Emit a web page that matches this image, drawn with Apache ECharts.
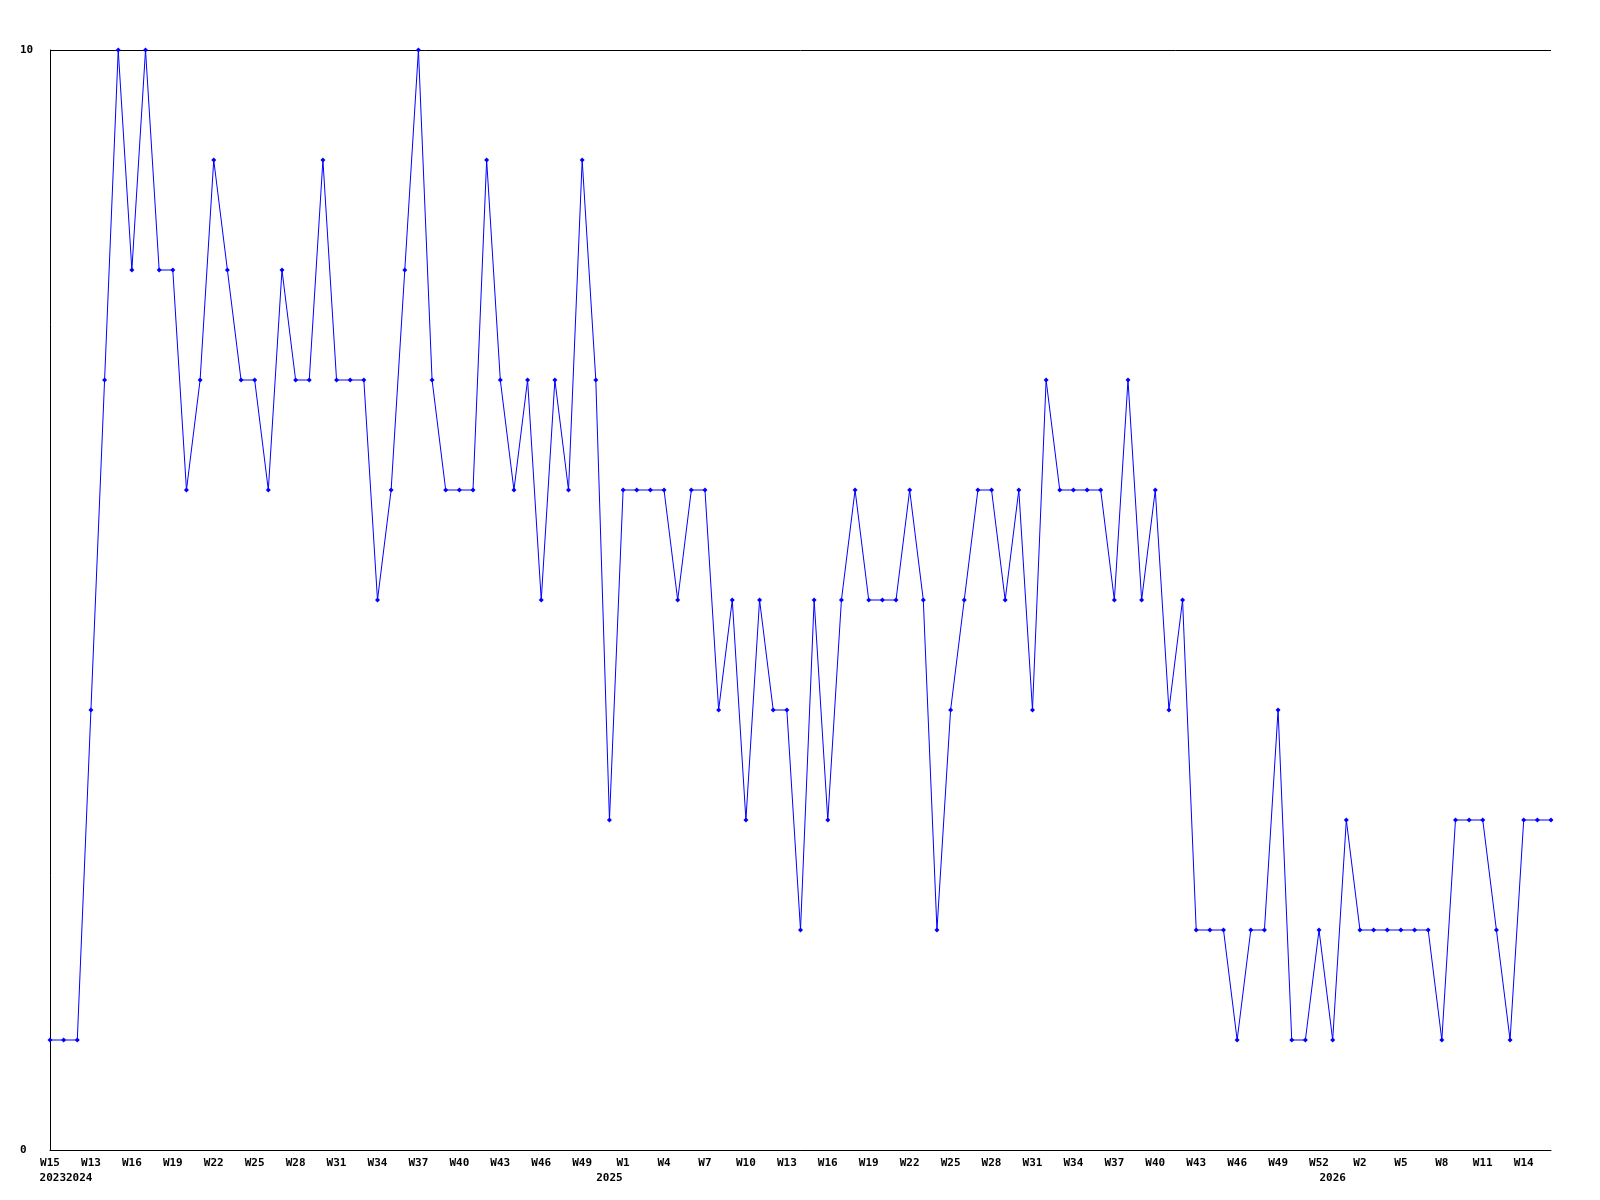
<!DOCTYPE html>
<html>
<head>
<meta charset="utf-8">
<script src="https://cdn.jsdelivr.net/npm/echarts@6/dist/echarts.min.js"></script>
<style>html,body{margin:0;padding:0;background:#fff}#c{width:1600px;height:1200px}</style>
</head>
<body>
<div id="c"></div>
<script>
// Categories: year-week of each point
const categories = [
 '2023-W15',
 '2024-W11','2024-W12','2024-W13','2024-W14','2024-W15','2024-W16','2024-W17','2024-W18','2024-W19','2024-W20',
 '2024-W21','2024-W22','2024-W23','2024-W24','2024-W25','2024-W26','2024-W27','2024-W28','2024-W29','2024-W30',
 '2024-W31','2024-W32','2024-W33','2024-W34','2024-W35','2024-W36','2024-W37','2024-W38','2024-W39','2024-W40',
 '2024-W41','2024-W42','2024-W43','2024-W44','2024-W45','2024-W46','2024-W47','2024-W48','2024-W49','2024-W50',
 '2025-W0','2025-W1','2025-W2','2025-W3','2025-W4','2025-W5','2025-W6','2025-W7','2025-W8','2025-W9','2025-W10',
 '2025-W11','2025-W12','2025-W13','2025-W14','2025-W15','2025-W16','2025-W17','2025-W18','2025-W19','2025-W20',
 '2025-W21','2025-W22','2025-W23','2025-W24','2025-W25','2025-W26','2025-W27','2025-W28','2025-W29','2025-W30',
 '2025-W31','2025-W32','2025-W33','2025-W34','2025-W35','2025-W36','2025-W37','2025-W38','2025-W39','2025-W40',
 '2025-W41','2025-W42','2025-W43','2025-W44','2025-W45','2025-W46','2025-W47','2025-W48','2025-W49','2025-W50',
 '2025-W51','2025-W52',
 '2026-W0','2026-W1','2026-W2','2026-W3','2026-W4','2026-W5','2026-W6','2026-W7','2026-W8','2026-W9','2026-W10',
 '2026-W11','2026-W12','2026-W13','2026-W14','2026-W15','2026-W16'
];
// Series values
const values = [
 1,1,1,4,7,10,8,10,8,8,
 6,7,9,8,7,7,6,8,7,7,
 9,7,7,7,5,6,8,10,7,6,
 6,6,9,7,6,7,5,7,6,9,
 7,3,6,6,6,6,5,6,6,4,
 5,3,5,4,4,2,5,3,5,6,
 5,5,5,6,5,2,4,5,6,6,
 5,6,4,7,6,6,6,6,5,7,
 5,6,4,5,2,2,2,1,2,2,
 4,1,1,2,1,3,2,2,2,2,
 2,2,1,3,3,3,2,1,3,3,3
];
// Y tick labels
const yMin = 0, yMax = 10;

const font = {fontFamily:'DejaVu Sans Mono', fontWeight:'bold', fontSize:11, color:'#000'};
const yearFirst = {};
categories.forEach((c,i)=>{const y=c.split('-')[0]; if(!(y in yearFirst)) yearFirst[y]=i;});
const isYearStart = i => yearFirst[categories[i].split('-')[0]] === i;

const chart = echarts.init(document.getElementById('c'), null, {renderer:'canvas'});
chart.setOption({
  animation:false,
  backgroundColor:'#fff',
  grid:{left:50, right:49, top:50, bottom:50, containLabel:false},
  xAxis:[{
    type:'category', data:categories, boundaryGap:false,
    axisLine:{show:true, lineStyle:{color:'#000', width:1}},
    axisTick:{show:false},
    splitLine:{show:false},
    axisLabel:Object.assign({}, font, {
      margin:8,
      interval:(i)=> i%3===0,
      formatter:(v)=> v.split('-')[1]
    })
  },{
    type:'category', data:categories, boundaryGap:false, position:'bottom', offset:15,
    axisLine:{show:false}, axisTick:{show:false}, splitLine:{show:false},
    axisLabel:Object.assign({}, font, {
      margin:8,
      interval:(i)=> isYearStart(i) && i!==1,
      formatter:(v, i)=> {
        const y = v.split('-')[0];
        // first two years sit side by side under the first tick
        return i===0 ? '{r|'+y+categories[1].split('-')[0]+'}' : y;
      },
      rich:{r:Object.assign({}, font, {padding:[0,0,0,32]})}
    })
  }],
  yAxis:{
    type:'value', min:yMin, max:yMax, interval:10,
    axisLine:{show:true, lineStyle:{color:'#000', width:1}},
    axisTick:{show:false},
    splitLine:{show:true, lineStyle:{color:'#000', width:1}},
    axisLabel:Object.assign({}, font, {margin:30, align:'left'})
  },
  series:[{
    type:'line', data:values, xAxisIndex:0,
    symbol:'diamond', symbolSize:5, showAllSymbol:true,
    lineStyle:{color:'#0000ff', width:1},
    itemStyle:{color:'#0000ff'}
  }]
});
</script>
</body>
</html>
